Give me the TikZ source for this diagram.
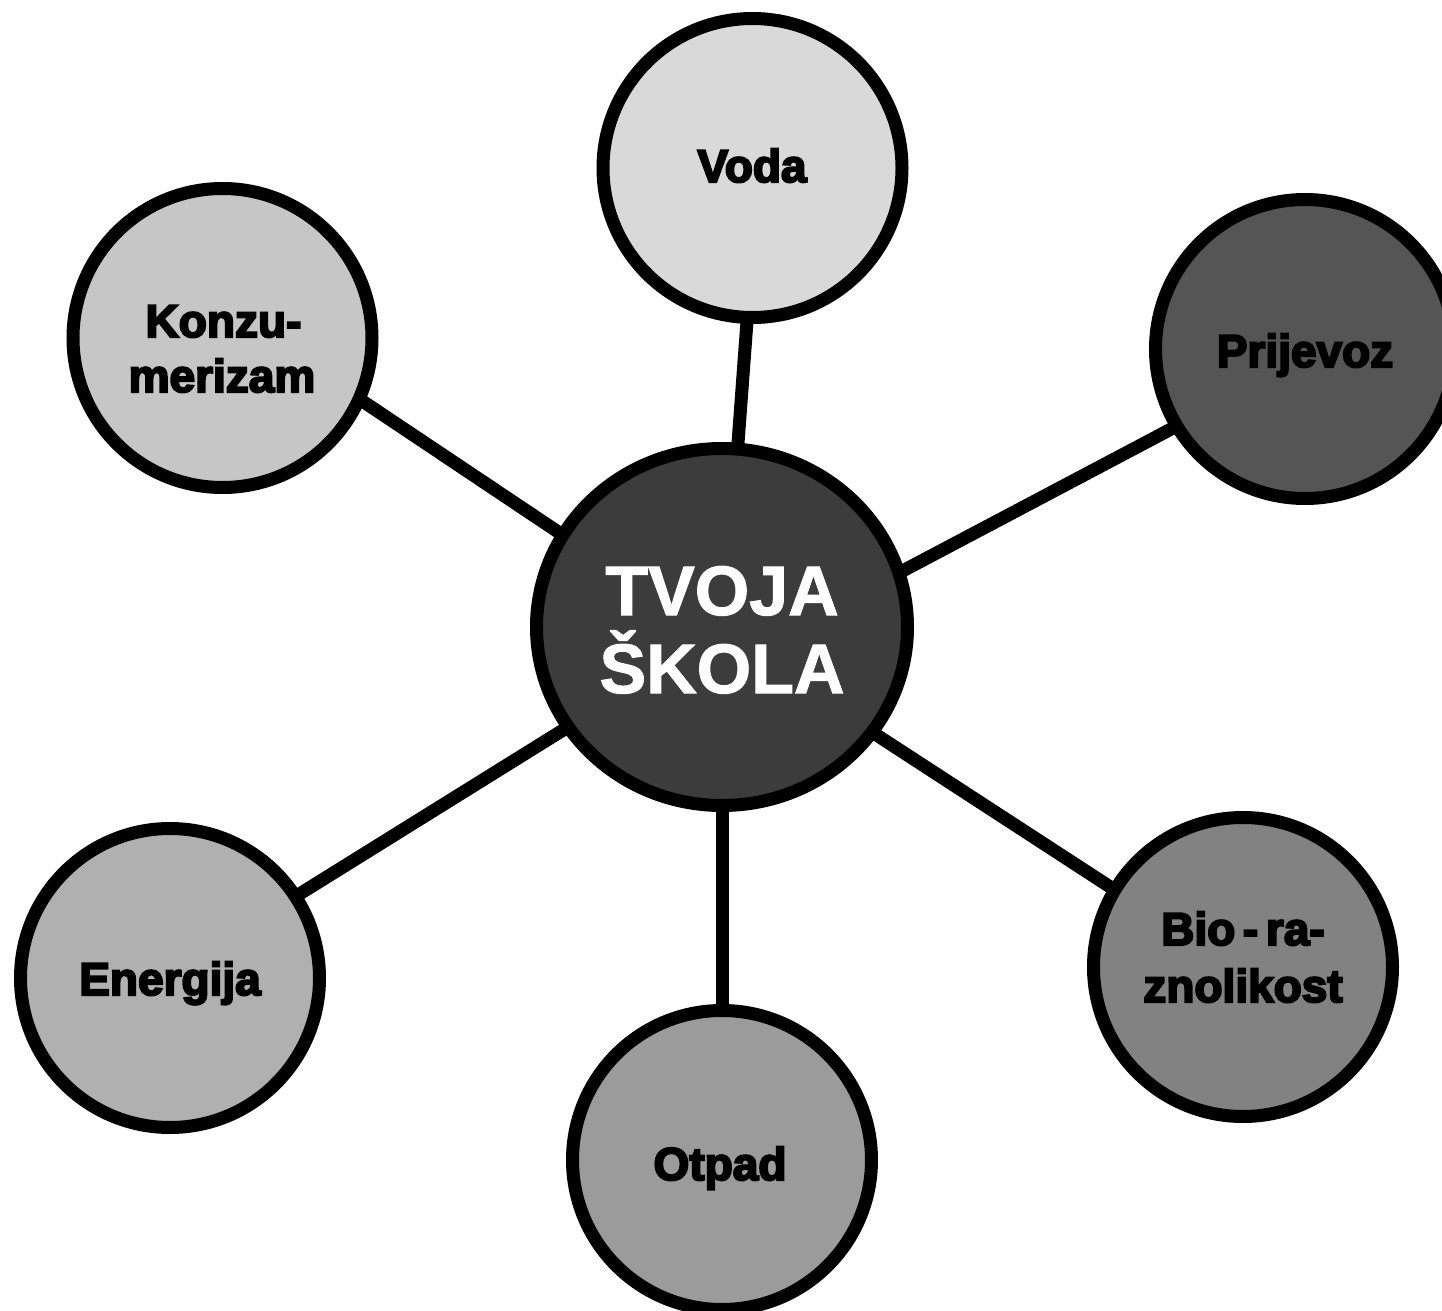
\documentclass[tikz,border=0pt]{standalone}
\usepackage{fontspec}
\setmainfont{Liberation Sans}
\newfontfamily\lblfont{Liberation Sans}[BoldFeatures={FakeBold=4.5}]
\newfontfamily\ctrfont{Liberation Sans}[BoldFeatures={FakeBold=1.5}]
\usetikzlibrary{shapes.geometric,backgrounds}
\definecolor{cvoda}{HTML}{D9D9D9}
\definecolor{ckonz}{HTML}{C6C6C6}
\definecolor{cprij}{HTML}{555555}
\definecolor{cener}{HTML}{B0B0B0}
\definecolor{cbio}{HTML}{828282}
\definecolor{cotp}{HTML}{9B9B9B}
\definecolor{ccen}{HTML}{3C3C3C}
\begin{document}
\begin{tikzpicture}[x=0.5pt,y=-0.5pt,
  bub/.style={circle, draw=black, line width=6.5pt, minimum size=149.5pt, inner sep=0pt, outer sep=0pt},
  cen/.style={ellipse, draw=black, line width=6.5pt, minimum width=185.5pt, minimum height=178.5pt, inner sep=0pt, outer sep=0pt, fill=ccen},
  conn/.style={draw=black, line width=6.5pt},
  lbl/.style={font=\lblfont\bfseries\fontsize{23}{27}\selectfont, anchor=base, inner sep=0pt, text=black},
  ctr/.style={font=\ctrfont\bfseries\fontsize{35}{40}\selectfont, anchor=base, inner sep=0pt, text=white}]
\useasboundingbox (0,0) rectangle (1442,1311);
\node[cen] (c) at (722,627) {};
\node[bub, fill=cvoda] (voda) at (752.5,168) {};
\node[bub, fill=ckonz] (konz) at (222.5,338) {};
\node[bub, fill=cprij] (prij) at (1305,349) {};
\node[bub, fill=cener] (ener) at (170,978) {};
\node[bub, fill=cbio] (bio) at (1243,967) {};
\node[bub, fill=cotp] (otp) at (722,1160) {};
\begin{scope}[on background layer]
\draw[conn] (c.85.5) -- (voda.268.5);
\draw[conn] (c.150.3) -- (konz.336);
\draw[conn] (c.17) -- (prij.211);
\draw[conn] (c.213.5) -- (ener.33);
\draw[conn] (c.325.5) -- (bio.149.4);
\draw[conn] (c.270) -- (otp.90);
\end{scope}
\node[lbl] (tvoda) at (752,182) {Voda};
\node[lbl] (tk1) at (223.5,337) {Konzu-};
\node[lbl] (tk2) at (222,392) {merizam};
\node[lbl] (tprij) at (1305,367) {Prijevoz};
\node[lbl] (tener) at (170,995) {Energija};
\node[lbl] (totp) at (720,1180) {Otpad};
\node[lbl] (tb1) at (1243,945) {Bio\,-\,ra-};
\node[lbl] (tb2) at (1243,1002) {znolikost};
\node[ctr] (tc1) at (722,615) {TVOJA};
\node[ctr] (tc2) at (722,693) {ŠKOLA};
\end{tikzpicture}
\end{document}
